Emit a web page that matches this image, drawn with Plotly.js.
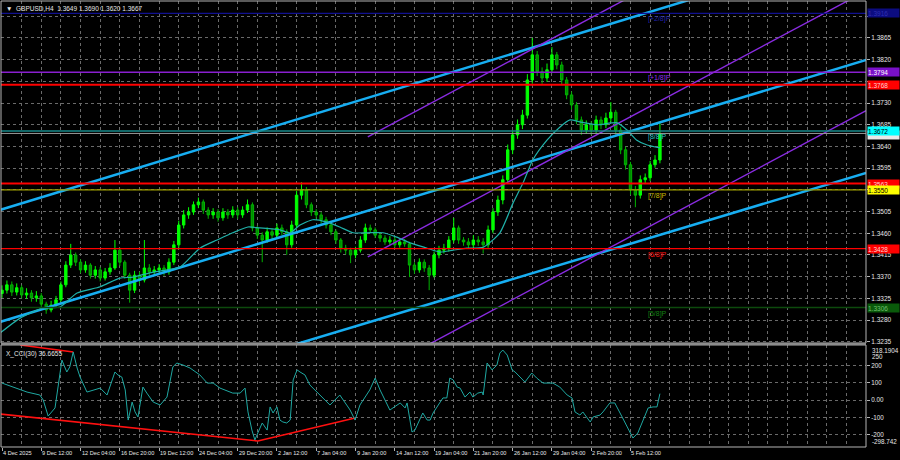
<!DOCTYPE html>
<html><head><meta charset="utf-8">
<script src="https://cdn.plot.ly/plotly-3.0.1.min.js"></script>
<style>html,body{margin:0;padding:0;background:#000;}#chart{width:900px;height:460px;}</style>
</head><body><div id="chart"></div>
<script>
// ---- price candles (each candle = one step of the time index) ----
const openP = [
1.3335,1.3342,1.3353,1.3338,1.3347,1.3332,1.3336,1.3326,1.3330,1.3313,
1.3301,1.3311,1.3322,1.3353,1.3394,1.3415,1.3400,1.3384,1.3394,1.3373,
1.3384,1.3367,1.3380,1.3388,1.3425,1.3400,1.3373,1.3342,1.3373,1.3363,
1.3388,1.3380,1.3384,1.3388,1.3380,1.3400,1.3436,1.3477,1.3498,1.3504,
1.3519,1.3525,1.3508,1.3498,1.3504,1.3492,1.3504,1.3498,1.3508,1.3498,
1.3508,1.3519,1.3471,1.3456,1.3446,1.3463,1.3456,1.3471,1.3463,1.3436,
1.3477,1.3539,1.3550,1.3519,1.3504,1.3498,1.3488,1.3477,1.3463,1.3446,
1.3429,1.3425,1.3415,1.3425,1.3446,1.3471,1.3467,1.3456,1.3450,1.3442,
1.3446,1.3436,1.3442,1.3438,1.3394,1.3384,1.3400,1.3388,1.3373,1.3415,
1.3425,1.3429,1.3446,1.3471,1.3446,1.3442,1.3436,1.3446,1.3442,1.3436,
1.3467,1.3504,1.3529,1.3571,1.3633,1.3664,1.3685,1.3705,1.3778,1.3830,
1.3795,1.3782,1.3799,1.3830,1.3809,1.3778,1.3747,1.3726,1.3695,1.3674,
1.3685,1.3674,1.3695,1.3685,1.3699,1.3711,1.3674,1.3633,1.3602,1.3550,
1.3539,1.3571,1.3575,1.3602,1.3612];
const highP = [
1.3352,1.3362,1.3360,1.3356,1.3352,1.3346,1.3342,1.3340,1.3336,1.3318,
1.3320,1.3330,1.3360,1.3402,1.3438,1.3420,1.3406,1.3402,1.3398,1.3392,
1.3390,1.3388,1.3398,1.3446,1.3430,1.3404,1.3378,1.3382,1.3380,1.3446,
1.3396,1.3392,1.3396,1.3394,1.3408,1.3444,1.3486,1.3508,1.3514,1.3526,
1.3534,1.3530,1.3514,1.3512,1.3510,1.3512,1.3510,1.3516,1.3514,1.3516,
1.3530,1.3524,1.3476,1.3462,1.3472,1.3470,1.3480,1.3478,1.3468,1.3486,
1.3548,1.3566,1.3556,1.3524,1.3510,1.3504,1.3494,1.3482,1.3468,1.3450,
1.3436,1.3430,1.3432,1.3454,1.3480,1.3478,1.3472,1.3462,1.3456,1.3454,
1.3452,1.3450,1.3448,1.3442,1.3400,1.3408,1.3406,1.3394,1.3422,1.3434,
1.3438,1.3454,1.3492,1.3476,1.3452,1.3450,1.3456,1.3454,1.3450,1.3476,
1.3512,1.3538,1.3580,1.3644,1.3674,1.3696,1.3716,1.3790,1.3865,1.3838,
1.3804,1.3812,1.3846,1.3836,1.3816,1.3784,1.3754,1.3732,1.3702,1.3694,
1.3692,1.3704,1.3702,1.3710,1.3732,1.3716,1.3680,1.3640,1.3608,1.3558,
1.3580,1.3584,1.3610,1.3622,1.3690];
const lowP = [
1.3326,1.3335,1.3330,1.3331,1.3325,1.3324,1.3318,1.3318,1.3306,1.3293,
1.3296,1.3305,1.3318,1.3348,1.3388,1.3392,1.3377,1.3378,1.3366,1.3366,
1.3360,1.3362,1.3374,1.3384,1.3392,1.3366,1.3316,1.3336,1.3355,1.3358,
1.3372,1.3374,1.3376,1.3372,1.3374,1.3394,1.3430,1.3470,1.3490,1.3498,
1.3512,1.3500,1.3490,1.3490,1.3484,1.3486,1.3490,1.3492,1.3490,1.3492,
1.3502,1.3464,1.3448,1.3400,1.3440,1.3448,1.3450,1.3456,1.3415,1.3430,
1.3472,1.3530,1.3512,1.3496,1.3490,1.3480,1.3470,1.3456,1.3438,1.3420,
1.3416,1.3398,1.3408,1.3420,1.3440,1.3460,1.3450,1.3442,1.3436,1.3436,
1.3430,1.3430,1.3432,1.3369,1.3376,1.3378,1.3380,1.3342,1.3368,1.3408,
1.3418,1.3422,1.3440,1.3438,1.3434,1.3428,1.3430,1.3434,1.3418,1.3430,
1.3460,1.3496,1.3520,1.3564,1.3624,1.3656,1.3676,1.3698,1.3770,1.3786,
1.3770,1.3774,1.3792,1.3800,1.3768,1.3738,1.3716,1.3686,1.3664,1.3666,
1.3664,1.3668,1.3676,1.3678,1.3690,1.3664,1.3624,1.3592,1.3540,1.3514,
1.3532,1.3562,1.3568,1.3596,1.3605];
const closeP = [
1.3342,1.3353,1.3338,1.3347,1.3332,1.3336,1.3326,1.3330,1.3313,1.3301,
1.3311,1.3322,1.3353,1.3394,1.3415,1.3400,1.3384,1.3394,1.3373,1.3384,
1.3367,1.3380,1.3388,1.3425,1.3400,1.3373,1.3342,1.3373,1.3363,1.3388,
1.3380,1.3384,1.3388,1.3380,1.3400,1.3436,1.3477,1.3498,1.3504,1.3519,
1.3525,1.3508,1.3498,1.3504,1.3492,1.3504,1.3498,1.3508,1.3498,1.3508,
1.3519,1.3471,1.3456,1.3446,1.3463,1.3456,1.3471,1.3463,1.3436,1.3477,
1.3539,1.3550,1.3519,1.3504,1.3498,1.3488,1.3477,1.3463,1.3446,1.3429,
1.3425,1.3415,1.3425,1.3446,1.3471,1.3467,1.3456,1.3450,1.3442,1.3446,
1.3436,1.3442,1.3438,1.3394,1.3384,1.3400,1.3388,1.3373,1.3415,1.3425,
1.3429,1.3446,1.3471,1.3446,1.3442,1.3436,1.3446,1.3442,1.3436,1.3467,
1.3504,1.3529,1.3571,1.3633,1.3664,1.3685,1.3705,1.3778,1.3830,1.3795,
1.3782,1.3799,1.3830,1.3809,1.3778,1.3747,1.3726,1.3695,1.3674,1.3685,
1.3674,1.3695,1.3685,1.3699,1.3711,1.3674,1.3633,1.3602,1.3550,1.3539,
1.3571,1.3575,1.3602,1.3612,1.3667];
const barIndex = closeP.map((_, i) => i);

// ---- moving average ----
const maX = [-0.4,3.7,8.35,11.8,15.3,20.0,24.0,26.7,30.1,33.6,36.3,40.3,43.8,47.0,50.1,52.5,56.6,58.7,60.7,63.3,66.2,68.8,71.5,74.3,77.6,80.4,83.1,86.6,89.2,91.9,94.7,98.0,101.4,104.1,106.1,108.1,111.0,113.6,115.7,117.7,121.2,125.3,127.3,129.3,131.4,134.0];
const maY = [1.3253,1.3284,1.3305,1.3307,1.3336,1.3349,1.3367,1.3369,1.3378,1.3384,1.3390,1.3429,1.3446,1.3461,1.3473,1.3471,1.3467,1.3461,1.3477,1.3488,1.3483,1.3473,1.3461,1.3461,1.3461,1.3452,1.3440,1.3429,1.3421,1.3425,1.3429,1.3431,1.3461,1.3523,1.3564,1.3612,1.3653,1.3680,1.3695,1.3691,1.3685,1.3689,1.3674,1.3653,1.3643,1.3637];

// ---- CCI(30) ----
const cciX = [0,3.7,5.1,7.7,8.4,9.4,10.8,12.2,13.2,13.8,14.5,15.3,15.9,17.3,18.5,20.0,21.4,23.0,23.6,24.4,25.1,25.7,26.5,27.1,27.7,28.7,29.5,30.8,32.2,33.6,34.8,35.6,36.9,38.3,40.3,41.8,43.0,44.4,47.0,48.5,49.5,50.1,50.9,51.5,52.1,53.0,54.0,54.6,55.2,56.0,56.6,57.2,58.0,58.7,59.3,60.1,60.7,61.7,62.7,64.8,66.8,68.8,70.9,71.9,72.9,74.9,76.0,77.0,79.0,81.1,82.1,82.5,83.5,84.1,85.1,85.7,86.6,87.2,87.8,89.2,89.8,90.6,91.2,91.9,92.7,93.3,94.3,95.3,95.9,96.9,97.8,98.0,98.8,99.8,100.8,101.4,102.0,102.9,103.9,104.5,105.5,106.5,107.9,108.9,110.2,111.6,112.2,113.6,115.1,116.1,116.7,117.7,118.3,119.8,120.4,121.8,122.4,123.8,124.8,126.3,127.3,128.5,129.5,131.6,132.6,133.4,134.0];
const cciV = [98,58,46,29,0,-93,-46,231,162,191,278,185,133,46,58,69,29,162,145,133,58,-116,-12,-69,-98,75,40,-12,-29,17,191,214,202,185,145,98,98,69,40,40,69,-69,-174,-231,-191,-133,-174,-40,-75,-40,-116,-127,-133,-116,116,174,162,145,87,29,-29,29,-58,-116,-29,58,127,58,-58,-17,-46,-17,-185,-174,-116,-75,-116,-116,-75,-17,12,12,127,116,75,69,17,46,17,40,46,29,214,174,202,272,289,260,174,162,133,104,156,127,98,98,98,75,29,12,-69,-87,-69,-127,-98,-87,-69,-17,-17,-98,-156,-220,-191,-46,-40,-40,36.67];

// ---- trend channel (blue) and parallel lines (purple): [x0,x1], [y0,y1] ----
const blueLineX = [[-0.41,176],[-0.41,176],[50.5,176]];
const blueLineY = [[1.35083,1.40558],[1.3276,1.38194],[1.32013,1.3585]];
const purpleLineX = [[74.5,176],[74.5,176],[74.5,176]];
const purpleLineY = [[1.36597,1.42114],[1.34108,1.39625],[1.31619,1.37144]];

// ---- CCI divergence lines (red) ----
const cciRedX = [[3.7,14.5],[-0.4,52.1],[52.1,71.9]];
const cciRedV = [[318,278],[-81,-237],[-237,-104]];

// ---- horizontal levels ----
const levelPrice = [1.3916,1.3794,1.3768,1.3667,1.3672,1.3563,1.3550,1.3428,1.3306];
const levelText  = ['1.3916','1.3794','1.3768','1.3667','1.3672','1.3563','1.3550','1.3428','1.3306'];
const murreyText  = ['[+2/8]P','[+1/8]P','[8/8]P','[7/8]P','[6/8]P','[5/8]P'];
const murreyPrice = [1.3916,1.3794,1.3672,1.3550,1.3428,1.3306];

// ---- axes ticks (labels hidden under level boxes left blank) ----
const priceTicks = [1.3235,1.3280,1.3325,1.3370,1.3415,1.3460,1.3505,1.3550,1.3595,1.3640,1.3685,1.3730,1.3775,1.3820,1.3865,1.3910];
const priceTickText = ['1.3235','1.3280','1.3325','1.3370','1.3415','1.3460','1.3505','','1.3595','1.3640','1.3685','1.3730','','1.3820','1.3865',''];
const timeTickPos = [0,8,16,24,32,40,48,56,64,72,80,88,96,104,112,120,128];
const timeTickText = ['4 Dec 2025','9 Dec 12:00','12 Dec 04:00','16 Dec 20:00','19 Dec 12:00','24 Dec 04:00','29 Dec 20:00','2 Jan 12:00','7 Jan 04:00','9 Jan 20:00','14 Jan 12:00','19 Jan 04:00','21 Jan 20:00','26 Jan 12:00','29 Jan 04:00','2 Feb 20:00','5 Feb 12:00'];
const cciTicks = [200,100,0,-100,-200];
const cciTickText = ['200','100','0.00','-100','-200'];
const cciMax = 318.1904, cciMin = -298.742, cciLast = 36.6655;

// ---- styles ----
const FONT = 'Liberation Sans, Arial, sans-serif';
const GRID = '#6a6a6a';
const levelStyle = [
  {c:'#101090', w:1.2, bg:'#0c0c80', fg:'#3030b0'},
  {c:'#8a1fd0', w:1.5, bg:'#7a10c8', fg:'#ffffff'},
  {c:'#ff0000', w:2,   bg:'#ff0000', fg:'#ffd0d0'},
  {c:'#9a9a9a', w:1,   bg:'#e8e8e8', fg:'#e8e8e8'},
  {c:'#178a8a', w:1.5, bg:'#00ffff', fg:'#000000'},
  {c:'#ff0000', w:2,   bg:'#ff0000', fg:'#ffd0d0'},
  {c:'#a0a000', w:1.2, bg:'#ffff00', fg:'#000000'},
  {c:'#ff0000', w:1.2, bg:'#ff0000', fg:'#ffd0d0'},
  {c:'#0c4a0c', w:1.5, bg:'#0a5a0a', fg:'#70c070'}];
const murreyColor = ['#2020a8','#9030e8','#28c0c0','#c8b800','#ff1010','#128012'];

const traces = [];
blueLineX.forEach((xs, k) => traces.push({type:'scatter', mode:'lines', x:xs, y:blueLineY[k], xaxis:'x', yaxis:'y',
  line:{color:'#17aef2', width:2.5}, hoverinfo:'skip'}));
purpleLineX.forEach((xs, k) => traces.push({type:'scatter', mode:'lines', x:xs, y:purpleLineY[k], xaxis:'x', yaxis:'y',
  line:{color:'#8a2be2', width:1.4}, hoverinfo:'skip'}));
traces.push({type:'candlestick', x:barIndex, open:openP, high:highP, low:lowP, close:closeP, xaxis:'x', yaxis:'y',
  increasing:{line:{color:'#00ff00', width:1}, fillcolor:'#00ff00'},
  decreasing:{line:{color:'#00b400', width:1}, fillcolor:'#008c00'},
  whiskerwidth:0, hoverinfo:'skip'});
traces.push({type:'scatter', mode:'lines', x:maX, y:maY, xaxis:'x', yaxis:'y',
  line:{color:'#20b2aa', width:1.2, shape:'spline', smoothing:0.6}, hoverinfo:'skip'});
cciRedX.forEach((xs, k) => traces.push({type:'scatter', mode:'lines', x:xs, y:cciRedV[k], xaxis:'x', yaxis:'y2',
  line:{color:'#ff1010', width:1.6}, hoverinfo:'skip'}));
traces.push({type:'scatter', mode:'lines', x:cciX, y:cciV, xaxis:'x', yaxis:'y2',
  line:{color:'#1fa8a2', width:1}, hoverinfo:'skip'});

const shapes = [];
levelPrice.forEach((p, k) => shapes.push({type:'line', xref:'paper', x0:0, x1:1, yref:'y', y0:p, y1:p,
  line:{color:levelStyle[k].c, width:levelStyle[k].w}, layer:'above'}));
// panel frames
const mainBottom = 0.2332, cciTop = 0.2287;
shapes.push({type:'rect', xref:'paper', yref:'paper', x0:0, x1:1, y0:mainBottom, y1:1, line:{color:'#b4b4b4', width:1}});
shapes.push({type:'rect', xref:'paper', yref:'paper', x0:0, x1:1, y0:0, y1:cciTop, line:{color:'#b4b4b4', width:1}});
shapes.push({type:'rect', xref:'paper', yref:'paper', x0:0, x1:1, y0:cciTop, y1:mainBottom, line:{width:0}, fillcolor:'#8c8c8c'});

const ann = [];
murreyText.forEach((t, k) => ann.push({xref:'x', x:131.2, xanchor:'left', yref:'y', y:murreyPrice[k], yanchor:'top',
  text:t, showarrow:false, font:{family:FONT, size:7, color:murreyColor[k]}}));
levelText.forEach((t, k) => ann.push({xref:'paper', x:1, xanchor:'left', xshift:1, yref:'y', y:levelPrice[k], yanchor:'middle',
  yshift: k === 3 ? -2 : 0,
  text:t, showarrow:false, bgcolor:levelStyle[k].bg, width:31, height:8, align:'left', borderpad:0,
  font:{family:FONT, size:6.5, color:levelStyle[k].fg}}));
timeTickText.forEach((t, k) => ann.push({xref:'x', x:timeTickPos[k], xanchor:'left', xshift:-1, yref:'paper', y:0, yanchor:'top', yshift:-1,
  text:t, showarrow:false, font:{family:FONT, size:5.6, color:'#e6e6e6'}}));
ann.push({xref:'paper', x:0, xanchor:'left', xshift:3, yref:'paper', y:1, yanchor:'top', yshift:-2,
  text:'\u25BC  GBPUSD,H4  1.3649 1.3690 1.3620 1.3667', showarrow:false, font:{family:FONT, size:6.5, color:'#e6e6e6'}});
ann.push({xref:'paper', x:0, xanchor:'left', xshift:3, yref:'paper', y:cciTop, yanchor:'top', yshift:-3,
  text:'X_CCI(30) ' + cciLast.toFixed(4), showarrow:false, font:{family:FONT, size:6.5, color:'#e6e6e6'}});
ann.push({xref:'paper', x:1, xanchor:'left', xshift:4, yref:'paper', y:cciTop, yanchor:'top', yshift:0,
  text:cciMax.toFixed(4), showarrow:false, font:{family:FONT, size:6.3, color:'#e6e6e6'}});
ann.push({xref:'paper', x:1, xanchor:'left', xshift:4, yref:'y2', y:250, yanchor:'middle',
  text:'250', showarrow:false, font:{family:FONT, size:6.3, color:'#e6e6e6'}});
ann.push({xref:'paper', x:1, xanchor:'left', xshift:4, yref:'paper', y:0, yanchor:'middle', yshift:6,
  text:cciMin.toFixed(3), showarrow:false, font:{family:FONT, size:6.3, color:'#e6e6e6'}});

const layout = {
  width:900, height:460, paper_bgcolor:'#000000', plot_bgcolor:'#000000',
  margin:{l:1, r:34, t:1, b:13}, showlegend:false,
  xaxis:{domain:[0,1], anchor:'y2', range:[-0.204, 175.97], rangeslider:{visible:false},
    tickmode:'array', tickvals:timeTickPos, showticklabels:false,
    ticks:'outside', ticklen:3, tickcolor:'#b4b4b4',
    showgrid:true, gridcolor:GRID, griddash:'3px,3px', gridwidth:1, zeroline:false, showline:false,
    minor:{tickmode:'linear', tick0:0, dtick:4, showgrid:true, gridcolor:GRID, griddash:'3px,3px', gridwidth:1, ticks:''}},
  yaxis:{domain:[mainBottom,1], range:[1.32324,1.39417], side:'right', anchor:'x',
    tickmode:'array', tickvals:priceTicks, ticktext:priceTickText,
    ticks:'outside', ticklen:3, tickcolor:'#b4b4b4', tickfont:{family:FONT, size:6.5, color:'#e6e6e6'},
    showgrid:true, gridcolor:GRID, griddash:'3px,3px', gridwidth:1, zeroline:false, showline:false},
  yaxis2:{domain:[0,cciTop], range:[-271.8,318.2], side:'right', anchor:'x',
    tickmode:'array', tickvals:cciTicks, ticktext:cciTickText,
    ticks:'outside', ticklen:3, tickcolor:'#b4b4b4', tickfont:{family:FONT, size:6.3, color:'#e6e6e6'},
    showgrid:true, gridcolor:GRID, griddash:'3px,3px', gridwidth:1, zeroline:false, showline:false},
  shapes:shapes, annotations:ann
};
Plotly.newPlot('chart', traces, layout, {staticPlot:true, displayModeBar:false});
</script></body></html>
